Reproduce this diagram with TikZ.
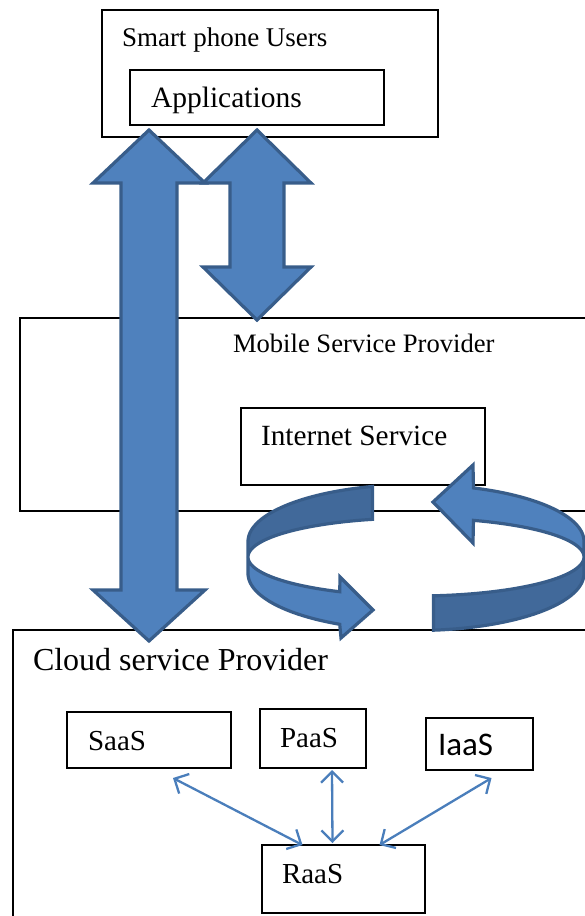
\documentclass[tikz,border=0pt]{standalone}
\usepackage{fontspec}
\setmainfont{Liberation Serif}
\newfontfamily\calibrifont{Carlito}
\usetikzlibrary{arrows.meta}

\definecolor{arrowblue}{HTML}{4F81BD}
\definecolor{arrowdark}{HTML}{41699A}
\definecolor{arrowedge}{HTML}{385D8A}
\definecolor{linkblue}{HTML}{4A7EBB}

\tikzset{
  box/.style={draw,rectangle,line width=1.2pt,inner sep=0pt,outer sep=0pt,anchor=north west},
  txt/.style={inner sep=0pt,outer sep=0pt,anchor=base west},
  blockarrow/.style={fill=arrowblue,draw=arrowedge,line width=3.2pt,line join=miter},
  darkface/.style={blockarrow,fill=arrowdark},
  link/.style={draw=linkblue,line width=2.3pt,>={Straight Barb[length=11pt,width=22pt]},<->},
  declare function={ringx(\t)=416+168*cos(\t); ringu(\t)=541.5+57*sin(\t);
                    ringm(\t)=557+39*sin(\t); ringl(\t)=573.5+57*sin(\t);}
}

\begin{document}
\begin{tikzpicture}[x=1pt,y=-1pt]
    \useasboundingbox (0,0) rectangle (585,916);
    % boxes
    \node[box,minimum width=336pt,minimum height=127pt](users) at (102,10){};
    \node[box,minimum width=254pt,minimum height=55pt](apps) at (130,70){};
    \node[box,minimum width=600pt,minimum height=193pt](msp) at (20,318){};
    \node[box,minimum width=244pt,minimum height=77pt](inet) at (241,408){};
    \node[box,minimum width=600pt,minimum height=320pt](csp) at (13,630){};
    \node[box,minimum width=164pt,minimum height=56pt](saas) at (67,712){};
    \node[box,minimum width=106pt,minimum height=59pt](paas) at (260,709){};
    \node[box,minimum width=107pt,minimum height=52pt](iaas) at (426,718){};
    \node[box,minimum width=163pt,minimum height=68pt](raas) at (262,845){};
    % texts
    \node[txt,font=\fontsize{27}{32}\selectfont](userstext) at (122,46){Smart phone Users};
    \node[txt,font=\fontsize{29.5}{34}\selectfont](appstext) at (151,107){Applications};
    \node[txt,font=\fontsize{26.6}{32}\selectfont](msptext) at (233,352){Mobile Service Provider};
    \node[txt,font=\fontsize{29.3}{34}\selectfont](inettext) at (261,445){Internet Service};
    \node[txt,font=\fontsize{32}{38}\selectfont](csptext) at (33,670){Cloud service Provider};
    \node[txt,font=\fontsize{29}{34}\selectfont](saastext) at (88,750){SaaS};
    \node[txt,font=\fontsize{29}{34}\selectfont](paastext) at (280,747){PaaS};
    \node[txt,font=\calibrifont\fontsize{33}{40}\selectfont](iaastext) at (438,755){IaaS};
    \node[txt,font=\fontsize{29}{34}\selectfont](raastext) at (282,883){RaaS};
    % block arrows
    \filldraw[blockarrow] (149,130) -- (205,183) -- (177,183) -- (177,590) -- (205,590)
        -- (149,641) -- (93,590) -- (121,590) -- (121,183) -- (93,183) -- cycle;
    \filldraw[blockarrow] (257,130) -- (311,183) -- (284,183) -- (284,267) -- (311,267)
        -- (257,320) -- (203,267) -- (230,267) -- (230,183) -- (203,183) -- cycle;
    % circular arrows
    \filldraw[darkface] plot[domain=255:180,samples=40] ({ringx(\x)},{ringu(\x)})
        -- plot[domain=180:255,samples=40] ({ringx(\x)},{ringm(\x)}) -- cycle;
    \filldraw[blockarrow] plot[domain=180:117,samples=40] ({ringx(\x)},{ringm(\x)})
        -- (340,577) -- (373,610) -- (341,638)
        -- plot[domain=117:180,samples=40] ({ringx(\x)},{ringl(\x)}) -- cycle;
    \filldraw[blockarrow] (433,502) -- (473,465)
        -- plot[domain=290:360,samples=40] ({ringx(\x)},{ringu(\x)})
        -- plot[domain=360:290,samples=40] ({ringx(\x)},{ringm(\x)})
        -- (473,543) -- cycle;
    \filldraw[darkface] plot[domain=0:84,samples=40] ({ringx(\x)},{ringm(\x)})
        -- plot[domain=84:0,samples=40] ({ringx(\x)},{ringl(\x)}) -- cycle;
    % links to RaaS
    \draw[link] ([shift={(24pt,-10pt)}]saas.south) -- ([xshift=-41pt]raas.north);
    \draw[link] ([shift={(19pt,-2pt)}]paas.south) -- ([shift={(-11pt,2pt)}]raas.north);
    \draw[link] ([shift={(12pt,-8pt)}]iaas.south) -- ([xshift=36pt]raas.north);
\end{tikzpicture}
\end{document}
